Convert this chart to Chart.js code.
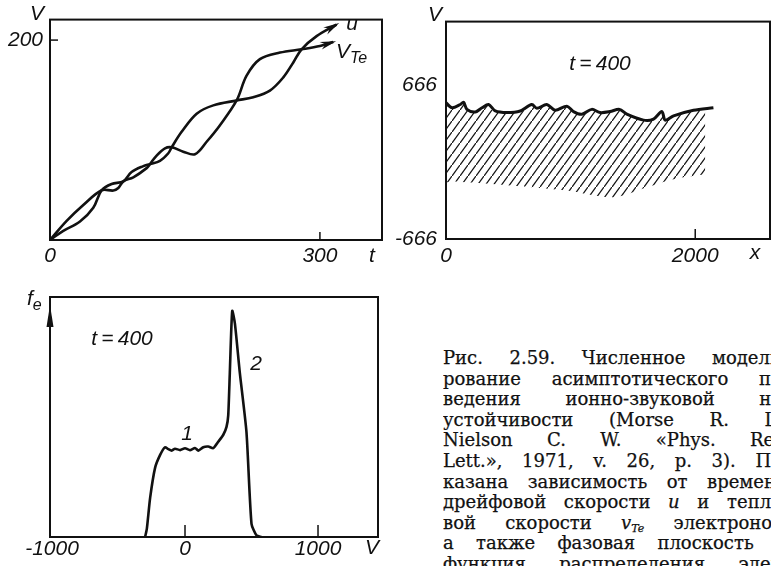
<!DOCTYPE html>
<html>
<head>
<meta charset="utf-8">
<script src="https://cdn.jsdelivr.net/npm/chart.js@4"></script>
<style>
  body { margin: 0; width: 771px; height: 566px; overflow: hidden; position: relative; background: #fff; }
  canvas { position: absolute; }
  .cap { position: absolute; left: 443px; top: 348px; width: 345px; font: 18px 'DejaVu Serif', serif; line-height: 20.6px; color: #111; -webkit-text-stroke: 0.25px #111; }
  .cap div { height: 20.6px; overflow: hidden; text-align: justify; text-align-last: justify; }
  .cap sub { font-size: 11px; line-height: 0; vertical-align: baseline; position: relative; top: 3px; }
</style>
</head>
<body>
<canvas id="c1" width="400" height="285" style="left:0;top:0"></canvas>
<canvas id="c2" width="391" height="285" style="left:380px;top:0"></canvas>
<canvas id="c3" width="400" height="281" style="left:0;top:285px"></canvas>

<div class="cap">
  <div>Рис. 2.59. Численное модели-</div>
  <div>рование асимптотического по-</div>
  <div>ведения ионно-звуковой не-</div>
  <div>устойчивости (Morse R. L.,</div>
  <div>Nielson C. W. «Phys. Rev.</div>
  <div>Lett.», 1971, v. 26, p. 3). По-</div>
  <div>казана зависимость от времени</div>
  <div>дрейфовой скорости <i>u</i> и тепло-</div>
  <div>вой скорости <i>v</i><sub><i>Te</i></sub> электронов,</div>
  <div>а также фазовая плоскость и</div>
  <div>функция распределения элек-</div>
</div>

<script>
// Панель 1: u(t) и V_Te(t)
var p1T_u   = [0, 14.8, 33.3, 48.1, 57.4, 68.5, 81.5, 90.7, 103.7, 111.1, 122.2, 131.5, 135.2, 146.3, 163.0, 181.5, 207.4, 225.9, 244.4, 259.3, 270.4, 279.6, 296.3, 318.5];
var p1V_u   = [0, 9.2, 18.5, 32.3, 49.8, 56.1, 58.7, 68.0, 73.9, 75.9, 79.2, 86.8, 92.7, 108.2, 126.4, 134.7, 139.6, 142.9, 149.5, 162.7, 177.6, 190.8, 204.0, 215.5];
var p1T_vte = [0, 18.5, 37.0, 57.4, 70.4, 75.9, 81.5, 92.6, 107.4, 111.1, 118.5, 127.8, 135.2, 148.1, 161.1, 174.1, 188.9, 207.4, 218.5, 233.3, 255.6, 279.6, 300.0, 314.8];
var p1V_vte = [0, 19.1, 35.0, 49.8, 49.5, 52.1, 58.7, 62.7, 71.9, 75.9, 84.5, 91.7, 92.7, 88.4, 85.8, 98.3, 114.9, 139.6, 164.4, 180.9, 187.5, 190.8, 194.1, 198.0];
var p1TicksT = [0, 300];
var p1TicksV = [200];

// Панель 2: фазовая плоскость, t=400
var p2X_edge = [0, 48, 115, 141, 168, 235, 289, 342, 395, 489, 596, 689, 729, 809, 876, 970, 1023, 1090, 1170, 1237, 1317, 1392, 1451, 1585, 1665, 1732, 1759, 1826, 1986, 2146];
var p2V_edge = [512, 469, 497, 517, 455, 432, 469, 497, 441, 427, 441, 497, 464, 497, 447, 483, 436, 413, 455, 427, 436, 455, 413, 362, 371, 436, 362, 399, 447, 469];
var p2X_low  = [0, 88, 542, 970, 1344, 1611, 1826, 2079];
var p2V_low  = [-177, -170, -205, -247, -304, -219, -149, -107];
var p2TicksX = [0, 2000];
var p2TicksV = [-666, 666];

// Панель 3: функция распределения f_e(v)
var p3V = [-300, -287, -262, -225, -187, -150, -125, -100, -75, -37, 0, 37, 75, 100, 137, 175, 212, 250, 287, 312, 325, 337, 355, 375, 412, 462, 500, 537, 575];
var p3F = [0, 3.4, 16.4, 28.8, 34.2, 37.4, 36.6, 36.0, 36.8, 36.2, 37.0, 36.2, 37.1, 36.0, 37.4, 37.7, 37.0, 39.7, 42.5, 45.9, 50.7, 68.5, 94.2, 89.0, 68.5, 43.8, 5.5, 0.7, 0];
var p3TicksV = [-1000, 0, 1000];

var INK = '#111';
var FONT = "'Liberation Sans', Arial, sans-serif";

Chart.defaults.font.family = FONT;
Chart.defaults.font.style = 'italic';
Chart.defaults.font.size = 21;
Chart.defaults.color = INK;
Chart.defaults.animation = false;

function zip(xs, ys) {
    return xs.map(function (x, i) { return { x: x, y: ys[i] }; });
}

function fmt(v) { return String(v); }

// ось с фиксированными делениями и фиксированным размером
function axisX(min, max, ticks, h, pad) {
    return {
        type: 'linear', min: min, max: max,
        afterBuildTicks: function (s) { s.ticks = ticks.map(function (v) { return { value: v }; }); },
        afterFit: function (s) { s.height = h; },
        grid: { display: false, drawTicks: false },
        border: { display: false },
        ticks: { padding: pad, autoSkip: false, maxRotation: 0, callback: fmt }
    };
}
function axisY(min, max, ticks, w, pad) {
    return {
        type: 'linear', min: min, max: max,
        afterBuildTicks: function (s) { s.ticks = ticks.map(function (v) { return { value: v }; }); },
        afterFit: function (s) { s.width = w; },
        grid: { display: false, drawTicks: false },
        border: { display: false },
        ticks: { padding: pad, autoSkip: false, display: ticks.length > 0, callback: fmt }
    };
}

// рамка, внутренние засечки, стрелки и надписи
var deco = {
    id: 'deco',
    afterDraw: function (chart, args, o) {
        var ctx = chart.ctx, a = chart.chartArea, sx = chart.scales.x, sy = chart.scales.y;
        ctx.save();
        ctx.strokeStyle = INK; ctx.fillStyle = INK;
        ctx.lineWidth = 2;
        ctx.strokeRect(a.left, a.top, a.right - a.left, a.bottom - a.top);
        ctx.lineWidth = 1.5;
        (o.marksX || []).forEach(function (v) {
            var x = sx.getPixelForValue(v);
            ctx.beginPath(); ctx.moveTo(x, a.bottom); ctx.lineTo(x, a.bottom - o.markLen); ctx.stroke();
        });
        (o.marksY || []).forEach(function (v) {
            var y = sy.getPixelForValue(v);
            ctx.beginPath(); ctx.moveTo(a.left, y); ctx.lineTo(a.left + o.markLen, y); ctx.stroke();
        });
        (o.arrows || []).forEach(function (i) {
            var pts = chart.getDatasetMeta(i).data;
            var p = pts[pts.length - 1], q = pts[pts.length - 2];
            var dx = p.x - q.x, dy = p.y - q.y, d = Math.hypot(dx, dy);
            dx /= d; dy /= d;
            var tx = p.x + dx * 3, ty = p.y + dy * 3;
            ctx.beginPath();
            ctx.moveTo(tx, ty);
            ctx.lineTo(tx - dx * 16 - dy * 4, ty - dy * 16 + dx * 4);
            ctx.lineTo(tx - dx * 11, ty - dy * 11);
            ctx.lineTo(tx - dx * 16 + dy * 4, ty - dy * 16 - dx * 4);
            ctx.closePath(); ctx.fill();
        });
        if (o.axisArrow) {
            ctx.beginPath();
            ctx.moveTo(a.left, a.top + 8);
            ctx.lineTo(a.left - 3.5, a.top + 30);
            ctx.lineTo(a.left + 3.5, a.top + 30);
            ctx.closePath(); ctx.fill();
        }
        ctx.textBaseline = 'middle';
        (o.texts || []).forEach(function (t) {
            var x = t.x - o.ox, y = t.y - o.oy;
            ctx.font = 'italic ' + (t.size || 21) + 'px ' + FONT;
            ctx.textAlign = t.sub ? 'left' : 'center';
            ctx.fillText(t.s, x, y);
            if (t.sub) {
                var w = ctx.measureText(t.s).width;
                ctx.font = 'italic 16px ' + FONT;
                ctx.fillText(t.sub, x + w, y + 7);
            }
        });
        ctx.restore();
    }
};

function hatch() {
    var c = document.createElement('canvas');
    c.width = 8; c.height = 11;
    var g = c.getContext('2d');
    g.strokeStyle = INK; g.lineWidth = 1.3;
    g.beginPath(); g.moveTo(-2, 13.75); g.lineTo(10, -2.75); g.stroke();
    return g.createPattern(c, 'repeat');
}

function lineSet(data, extra) {
    var d = { data: data, borderColor: INK, borderWidth: 2.6, pointRadius: 0, tension: 0.35, fill: false };
    for (var k in extra) d[k] = extra[k];
    return d;
}

// Панель 1
new Chart(document.getElementById('c1'), {
    type: 'line',
    data: { datasets: [
        lineSet(zip(p1T_u, p1V_u), { label: 'u' }),
        lineSet(zip(p1T_vte, p1V_vte), { label: 'VTe' })
    ] },
    options: {
        responsive: false, events: [],
        layout: { autoPadding: false, padding: { top: 16, right: 18, left: 0, bottom: 0 } },
        scales: { x: axisX(0, 369, p1TicksT, 45, 4), y: axisY(0, 220.5, p1TicksV, 50, 7) },
        plugins: {
            legend: { display: false }, tooltip: { enabled: false },
            deco: {
                ox: 0, oy: 0, markLen: 8, marksX: [300], marksY: [200], arrows: [0, 1],
                texts: [
                    { s: 'V', x: 37, y: 14 },
                    { s: 't', x: 372, y: 256 },
                    { s: 'u', x: 352, y: 24 },
                    { s: 'V', sub: 'Te', x: 336, y: 52 }
                ]
            }
        }
    },
    plugins: [deco]
});

// Панель 2
new Chart(document.getElementById('c2'), {
    type: 'line',
    data: { datasets: [
        lineSet(zip(p2X_edge, p2V_edge), { label: 'edge', borderWidth: 3, tension: 0.3, fill: { target: 1 }, backgroundColor: hatch() }),
        lineSet(zip(p2X_low, p2V_low), { label: 'low', borderWidth: 0, borderColor: 'rgba(0,0,0,0)' })
    ] },
    options: {
        responsive: false, events: [],
        layout: { autoPadding: false, padding: { top: 15, right: 1, left: 0, bottom: 0 } },
        scales: { x: axisX(0, 2600, p2TicksX, 46, 5), y: axisY(-666, 1214, p2TicksV, 66, 9) },
        plugins: {
            legend: { display: false }, tooltip: { enabled: false },
            deco: {
                ox: 380, oy: 0, markLen: 10, marksX: [2000],
                texts: [
                    { s: 'V', x: 435, y: 15 },
                    { s: 't\u2009=\u2009400', x: 600, y: 64 },
                    { s: 'x', x: 755, y: 253 }
                ]
            }
        }
    },
    plugins: [deco]
});

// Панель 3
new Chart(document.getElementById('c3'), {
    type: 'line',
    data: { datasets: [ lineSet(zip(p3V, p3F), { label: 'fe', tension: 0.2 }) ] },
    options: {
        responsive: false, events: [],
        layout: { autoPadding: false, padding: { top: 12, right: 22, left: 0, bottom: 0 } },
        scales: { x: axisX(-1015, 1451, p3TicksV, 29, 0), y: axisY(0, 100, [], 50, 0) },
        plugins: {
            legend: { display: false }, tooltip: { enabled: false },
            deco: {
                ox: 0, oy: 285, markLen: 12, marksX: [0, 1000], axisArrow: true,
                texts: [
                    { s: 'f', sub: 'e', x: 27, y: 299 },
                    { s: 't\u2009=\u2009400', x: 122, y: 339 },
                    { s: '1', x: 187, y: 434 },
                    { s: '2', x: 256, y: 364 },
                    { s: 'V', x: 372, y: 548 }
                ]
            }
        }
    },
    plugins: [deco]
});
</script>
</body>
</html>
